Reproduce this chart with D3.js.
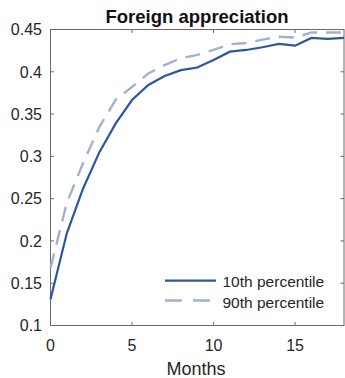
<!DOCTYPE html>
<html><head><meta charset="utf-8">
<script src="https://cdn.jsdelivr.net/npm/d3@7"></script>
<style>body{margin:0;background:#fff;} text{font-family:"Liberation Sans",Arial,sans-serif;}</style>
</head><body><svg id="c" width="345" height="378"></svg>
<script>
const months = [0,1,2,3,4,5,6,7,8,9,10,11,12,13,14,15,16,17,18];
const p10 = [0.131,0.209,0.262,0.305,0.339,0.3666,0.3844,0.395,0.402,0.405,0.414,0.4238,0.4258,0.429,0.4329,0.4309,0.440,0.4388,0.440];
const p90 = [0.168,0.245,0.292,0.335,0.367,0.382,0.398,0.408,0.416,0.420,0.4258,0.4325,0.4340,0.438,0.4415,0.4405,0.4465,0.4465,0.4465];
const xTicks = [0,5,10,15];
const yTicks = [0.1,0.15,0.2,0.25,0.3,0.35,0.4,0.45];
const seriesNames = ["10th percentile","90th percentile"];

const svg = d3.select("#c");
const L=50.5, R=344, T=29.5, B=325.5;
const x = d3.scaleLinear().domain([0,18]).range([L,R]);
const y = d3.scaleLinear().domain([0.1,0.45]).range([B,T]);
const axisCol="#6b6b6b", txtCol="#262626";

const g = svg.append("g");
// box
g.append("rect").attr("x",L).attr("y",T).attr("width",R-L).attr("height",B-T)
 .attr("fill","none").attr("stroke",axisCol).attr("stroke-width",1);
const tl=3.5;
xTicks.forEach(t=>{
  g.append("line").attr("x1",x(t)).attr("x2",x(t)).attr("y1",B).attr("y2",B-tl).attr("stroke",axisCol);
  g.append("line").attr("x1",x(t)).attr("x2",x(t)).attr("y1",T).attr("y2",T+tl).attr("stroke",axisCol);
  g.append("text").attr("x",x(t)).attr("y",350.5).attr("text-anchor","middle")
   .attr("font-size","16px").attr("fill",txtCol).text(t);
});
yTicks.forEach(t=>{
  g.append("line").attr("x1",L).attr("x2",L+tl).attr("y1",y(t)).attr("y2",y(t)).attr("stroke",axisCol);
  g.append("line").attr("x1",R).attr("x2",R-tl).attr("y1",y(t)).attr("y2",y(t)).attr("stroke",axisCol);
  g.append("text").attr("x",42).attr("y",y(t)).attr("dy","0.36em").attr("text-anchor","end")
   .attr("font-size","16px").attr("fill",txtCol).text(d3.format("")(+t.toFixed(2)));
});

const line = d3.line().x((d,i)=>x(months[i])).y(d=>y(d));
g.append("path").datum(p90).attr("d",line).attr("fill","none").attr("stroke","#9fb2d2")
 .attr("stroke-width",2.4).attr("stroke-dasharray","15,9");
g.append("path").datum(p10).attr("d",line).attr("fill","none").attr("stroke","#2d56a2")
 .attr("stroke-width",2.2);

// title
svg.append("text").attr("x",197).attr("y",22.5).attr("text-anchor","middle")
 .attr("font-size","18.5px").attr("font-weight","bold").attr("fill","#111").text("Foreign appreciation");
// x label
svg.append("text").attr("x",196).attr("y",375).attr("text-anchor","middle")
 .attr("font-size","18px").attr("fill",txtCol).text("Months");

// legend
const lg = svg.append("g");
lg.append("line").attr("x1",165).attr("x2",216).attr("y1",280.7).attr("y2",280.7)
 .attr("stroke","#2d56a2").attr("stroke-width",2.2);
lg.append("line").attr("x1",165).attr("x2",216).attr("y1",300.5).attr("y2",300.5)
 .attr("stroke","#9fb2d2").attr("stroke-width",2.4).attr("stroke-dasharray","17,11");
lg.append("text").attr("x",222.5).attr("y",286.5).attr("font-size","15.5px").attr("fill",txtCol).text(seriesNames[0]);
lg.append("text").attr("x",222.5).attr("y",307.5).attr("font-size","15.5px").attr("fill",txtCol).text(seriesNames[1]);
</script></body></html>
